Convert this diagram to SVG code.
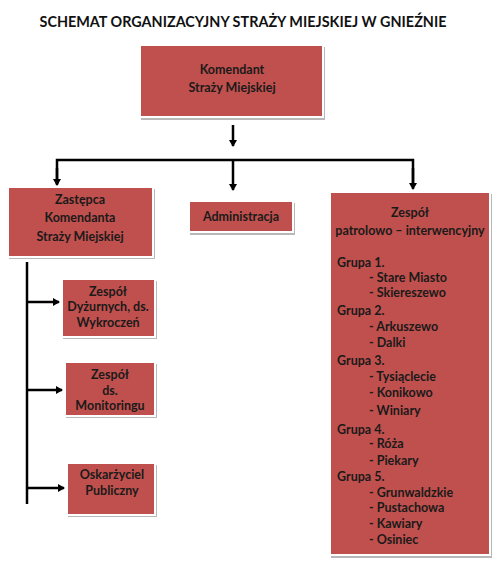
<svg xmlns="http://www.w3.org/2000/svg" width="500" height="576" viewBox="0 0 500 576">
<defs>
<style>
.box{fill:#C0504D;stroke:#ffffff;stroke-width:2}
.sh{fill:#b8b8b8}
.t{font-family:Lato,"Open Sans","Liberation Sans",sans-serif;font-weight:bold;font-size:12.5px;fill:#1a1a1a}
.c{text-anchor:middle}
.title{font-family:Lato,"Open Sans","Liberation Sans",sans-serif;font-weight:bold;font-size:14.4px;fill:#111;text-anchor:middle}
.ln{stroke:#000;stroke-width:2.5;fill:none}
</style>
<marker id="ah" markerWidth="8" markerHeight="8" refX="6" refY="4" orient="auto" markerUnits="userSpaceOnUse">
<path d="M0,0 L7,4 L0,8 Z" fill="#000"/>
</marker>
</defs>
<rect width="500" height="576" fill="#fff"/>
<text class="title" x="243" y="27">SCHEMAT ORGANIZACYJNY STRAŻY MIEJSKIEJ W GNIEŹNIE</text>

<g id="connectors">
<line class="ln" x1="233" y1="125" x2="233" y2="146" marker-end="url(#ah)"/>
<polyline class="ln" points="57,184 57,160 413,160 413,184"/>
<line class="ln" x1="57" y1="168" x2="57" y2="185" marker-end="url(#ah)"/>
<line class="ln" x1="233" y1="160" x2="233" y2="190" marker-end="url(#ah)"/>
<line class="ln" x1="413" y1="168" x2="413" y2="189" marker-end="url(#ah)"/>
<line class="ln" x1="27" y1="262" x2="27" y2="504"/>
<line class="ln" x1="28" y1="302" x2="59" y2="302" marker-end="url(#ah)"/>
<line class="ln" x1="28" y1="390" x2="62" y2="390" marker-end="url(#ah)"/>
<line class="ln" x1="28" y1="488" x2="64" y2="488" marker-end="url(#ah)"/>
</g>

<g id="komendant">
<rect class="sh" x="141" y="47" width="184" height="73"/>
<rect class="box" x="140" y="45" width="183" height="72"/>
<text class="t c" x="232" y="74">Komendant</text>
<text class="t c" x="232" y="92">Straży Miejskiej</text>
</g>

<g id="zastepca">
<rect class="sh" x="9" y="189" width="146" height="70"/>
<rect class="box" x="8" y="187" width="145" height="70"/>
<text class="t c" x="80" y="204">Zastępca</text>
<text class="t c" x="80" y="222">Komendanta</text>
<text class="t c" x="80" y="241">Straży Miejskiej</text>
</g>

<g id="administracja">
<rect class="sh" x="190" y="203" width="105" height="32"/>
<rect class="box" x="189" y="201" width="104" height="31"/>
<text class="t c" x="241" y="221">Administracja</text>
</g>

<g id="patrol">
<rect class="sh" x="331" y="194" width="161" height="364"/>
<rect class="box" x="330" y="192" width="160" height="363"/>
<text class="t c" x="410" y="217">Zespół</text>
<text class="t c" x="410" y="235">patrolowo – interwencyjny</text>
<text class="t" x="337" y="267">Grupa 1.</text>
<text class="t" x="369" y="282">- Stare Miasto</text>
<text class="t" x="369" y="297">- Skiereszewo</text>
<text class="t" x="337" y="315">Grupa 2.</text>
<text class="t" x="369" y="331">- Arkuszewo</text>
<text class="t" x="369" y="347">- Dalki</text>
<text class="t" x="337" y="365">Grupa 3.</text>
<text class="t" x="369" y="381">- Tysiąclecie</text>
<text class="t" x="369" y="397">- Konikowo</text>
<text class="t" x="369" y="415">- Winiary</text>
<text class="t" x="337" y="434">Grupa 4.</text>
<text class="t" x="369" y="448">- Róża</text>
<text class="t" x="369" y="465">- Piekary</text>
<text class="t" x="337" y="481">Grupa 5.</text>
<text class="t" x="369" y="497">- Grunwaldzkie</text>
<text class="t" x="369" y="512">- Pustachowa</text>
<text class="t" x="369" y="528">- Kawiary</text>
<text class="t" x="369" y="544">- Osiniec</text>
</g>

<g id="dyzurni">
<rect class="sh" x="63" y="281" width="94" height="58"/>
<rect class="box" x="62" y="279" width="93" height="58"/>
<text class="t c" x="108" y="296">Zespół</text>
<text class="t c" x="108" y="311">Dyżurnych, ds.</text>
<text class="t c" x="108" y="327">Wykroczeń</text>
</g>

<g id="monitoring">
<rect class="sh" x="66" y="364" width="91" height="54"/>
<rect class="box" x="65" y="362" width="90" height="54"/>
<text class="t c" x="110" y="379">Zespół</text>
<text class="t c" x="110" y="395">ds.</text>
<text class="t c" x="110" y="410">Monitoringu</text>
</g>

<g id="oskarzyciel">
<rect class="sh" x="68" y="465" width="89" height="52"/>
<rect class="box" x="67" y="463" width="88" height="52"/>
<text class="t c" x="112" y="479">Oskarżyciel</text>
<text class="t c" x="112" y="495">Publiczny</text>
</g>
</svg>
